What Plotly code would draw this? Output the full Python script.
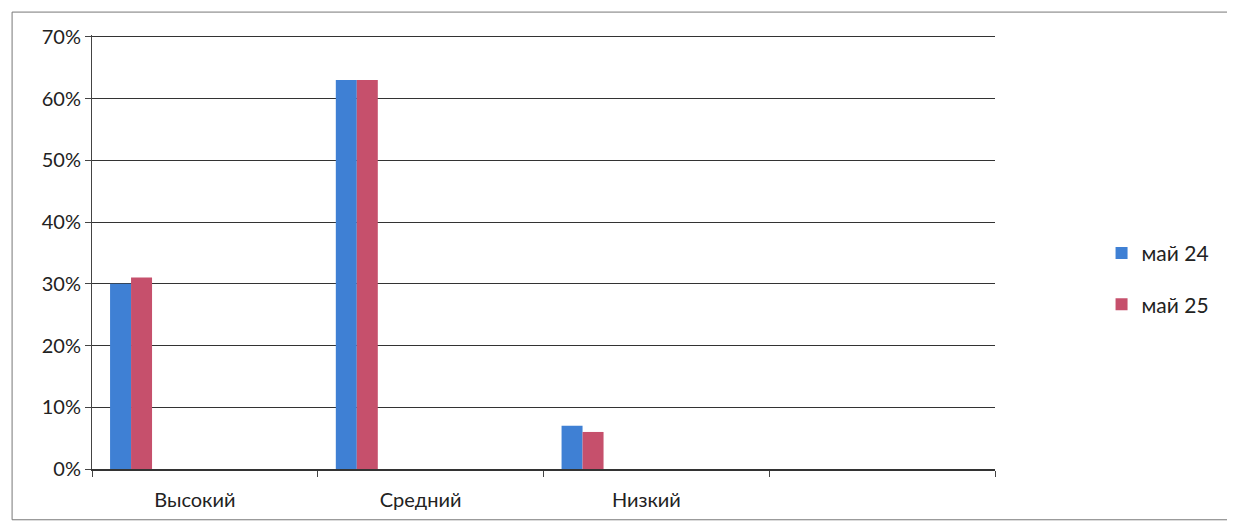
import plotly.graph_objects as go

categories = ["Высокий", "Средний", "Низкий"]
empty_slot = "\u200b"
may24 = [0.30, 0.63, 0.07]
may25 = [0.31, 0.63, 0.06]
series_names = ["май 24", "май 25"]
y_ticks = [0, 0.1, 0.2, 0.3, 0.4, 0.5, 0.6, 0.7]

blue = "#3f80d4"
red = "#c6506c"
font_family = "Lato, 'Noto Sans', sans-serif"

fig = go.Figure()
fig.add_trace(go.Bar(
    x=categories, y=may24, name=series_names[0],
    marker=dict(color=blue, line=dict(width=0)),
    width=0.093, offset=-0.42, legendgroup="a",
))
fig.add_trace(go.Bar(
    x=categories, y=may25, name=series_names[1],
    marker=dict(color=red, line=dict(width=0)),
    width=0.093, offset=-0.327, legendgroup="b",
))

# chart frame: left, top and bottom edges (right edge runs off the page)
frame_left, frame_right, frame_top, frame_bottom = -0.0885, 1.3, 1.0528, -0.117
border = dict(color="#777", width=1)
frame = [
    dict(type="line", xref="paper", yref="paper", x0=frame_left, x1=frame_left,
         y0=frame_bottom, y1=frame_top, line=border),
    dict(type="line", xref="paper", yref="paper", x0=frame_left, x1=frame_right,
         y0=frame_top, y1=frame_top, line=border),
    dict(type="line", xref="paper", yref="paper", x0=frame_left, x1=frame_right,
         y0=frame_bottom, y1=frame_bottom, line=border),
]

# page body adds an 8px margin all round, so the figure is 16px smaller
fig.update_layout(
    width=1219, height=515,
    margin=dict(l=84, r=231, t=27, b=52),
    paper_bgcolor="white", plot_bgcolor="white",
    font=dict(family=font_family, size=20, color="#222"),
    barmode="group",
    showlegend=True,
    legend=dict(x=1.118, xanchor="left", y=0.438, yanchor="middle",
                font=dict(size=21, color="#222"), tracegroupgap=21,
                bgcolor="rgba(0,0,0,0)"),
    xaxis=dict(
        type="category", categoryorder="array",
        categoryarray=categories + [empty_slot],
        range=[-0.5, 3.5], tickson="boundaries",
        ticks="outside", ticklen=6, tickcolor="#444", tickwidth=1,
        showline=True, linecolor="#333", linewidth=1.5,
        showgrid=False, ticklabelshift=-10, ticklabelstandoff=12,
        tickfont=dict(size=20, color="#222"),
    ),
    yaxis=dict(
        range=[0, 0.703], tickvals=y_ticks, tickformat=".0%",
        ticks="outside", ticklen=6, tickcolor="#444",
        showline=True, linecolor="#444", linewidth=1,
        showgrid=True, gridcolor="#333", gridwidth=1.3,
        zeroline=False, ticklabelstandoff=0,
        tickfont=dict(size=20, color="#222"),
    ),
    shapes=frame,
)

fig.write_html("out.html")
